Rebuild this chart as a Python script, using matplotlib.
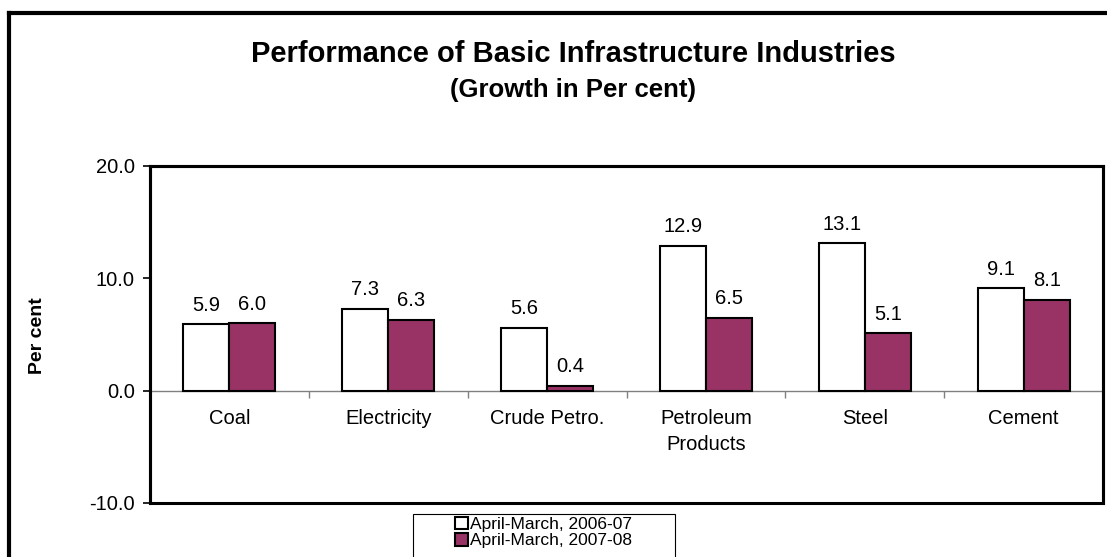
import matplotlib
matplotlib.use('Agg')
import matplotlib.pyplot as plt
from matplotlib.patches import Rectangle
from matplotlib.lines import Line2D
import numpy as np

plt.rcParams['font.family'] = ['Liberation Sans', 'DejaVu Sans']

categories = ['Coal', 'Electricity', 'Crude Petro.', 'Petroleum\nProducts', 'Steel', 'Cement']
growth_0607 = [5.9, 7.3, 5.6, 12.9, 13.1, 9.1]
growth_0708 = [6.0, 6.3, 0.4, 6.5, 5.1, 8.1]
series_names = ['April-March, 2006-07', 'April-March, 2007-08']
yticks = [-10, 0, 10, 20]

W, H = 1107, 557
fig = plt.figure(figsize=(W / 100, H / 100), dpi=100)
ax = fig.add_axes([0.1355, 0.097, 0.861, 0.605])

x = np.arange(len(categories))
w = 0.29
b1 = ax.bar(x - w / 2, growth_0607, w, color='white', edgecolor='black', lw=1.5, label=series_names[0], zorder=3)
b2 = ax.bar(x + w / 2, growth_0708, w, color='#993366', edgecolor='black', lw=1.5, label=series_names[1], zorder=3)

for bars, vals in ((b1, growth_0607), (b2, growth_0708)):
    for r, v in zip(bars, vals):
        ax.annotate(f'{v:.1f}', (r.get_x() + r.get_width() / 2, v), xytext=(0, 7),
                    textcoords='offset points', ha='center', va='bottom', fontsize=14.5)

ax.set_xlim(-0.5, len(categories) - 0.5)
ax.set_ylim(-10, 20)
ax.set_yticks(yticks)
ax.set_yticklabels([f'{t:.1f}' for t in yticks], fontsize=14.5)
ax.tick_params(axis='y', direction='out', length=5, width=1.2, pad=6)

# x axis sits at zero
ax.spines['bottom'].set_position(('data', 0))
ax.spines['bottom'].set_color('#808080')
ax.spines['bottom'].set_linewidth(1.0)
for s in ('left', 'top', 'right'):
    ax.spines[s].set_linewidth(2.2)
ax.add_patch(Rectangle((0, 0), 1, 1, transform=ax.transAxes, fill=False, lw=2.2,
                       edgecolor='black', clip_on=False, zorder=5))

ax.set_xticks(x)
ax.set_xticklabels(categories, fontsize=14.5, linespacing=1.5)
ax.set_xticks(np.arange(len(categories) + 1) - 0.5, minor=True)
ax.tick_params(axis='x', which='major', length=0, pad=13)
ax.tick_params(axis='x', which='minor', length=5, width=1, color='#808080', direction='out')

fig.text(37 / W, 1 - 336 / H, 'Per cent', rotation=90, ha='center', va='center',
         fontsize=14, fontweight='bold')

fig.text(573 / W, 1 - 54 / H, 'Performance of Basic Infrastructure Industries', ha='center', va='center',
         fontsize=21, fontweight='bold')
fig.text(573 / W, 1 - 90 / H, '(Growth in Per cent)', ha='center', va='center', fontsize=18.5, fontweight='bold')

# outer frame (cropped at right and bottom)
fig.add_artist(Line2D([9 / W, 1.01], [1 - 13 / H, 1 - 13 / H], transform=fig.transFigure, color='black', lw=3))
fig.add_artist(Line2D([9 / W, 9 / W], [-0.01, 1 - 13 / H], transform=fig.transFigure, color='black', lw=3))

# legend box is wider than its content
fig.add_artist(Rectangle((413 / W, -0.05), (675 - 413) / W, 0.05 + 1 - 514 / H, transform=fig.transFigure,
                         fill=False, edgecolor='black', lw=0.8))
leg = fig.legend(handles=[b1, b2], labels=series_names, loc='upper left',
                 bbox_to_anchor=(453 / W, 1 - 515 / H), fontsize=12.5, frameon=False,
                 handlelength=0.75, handleheight=0.75, handletextpad=0.15, borderpad=0.1,
                 labelspacing=0.05, borderaxespad=0)

fig.savefig('out.png', dpi=100)
